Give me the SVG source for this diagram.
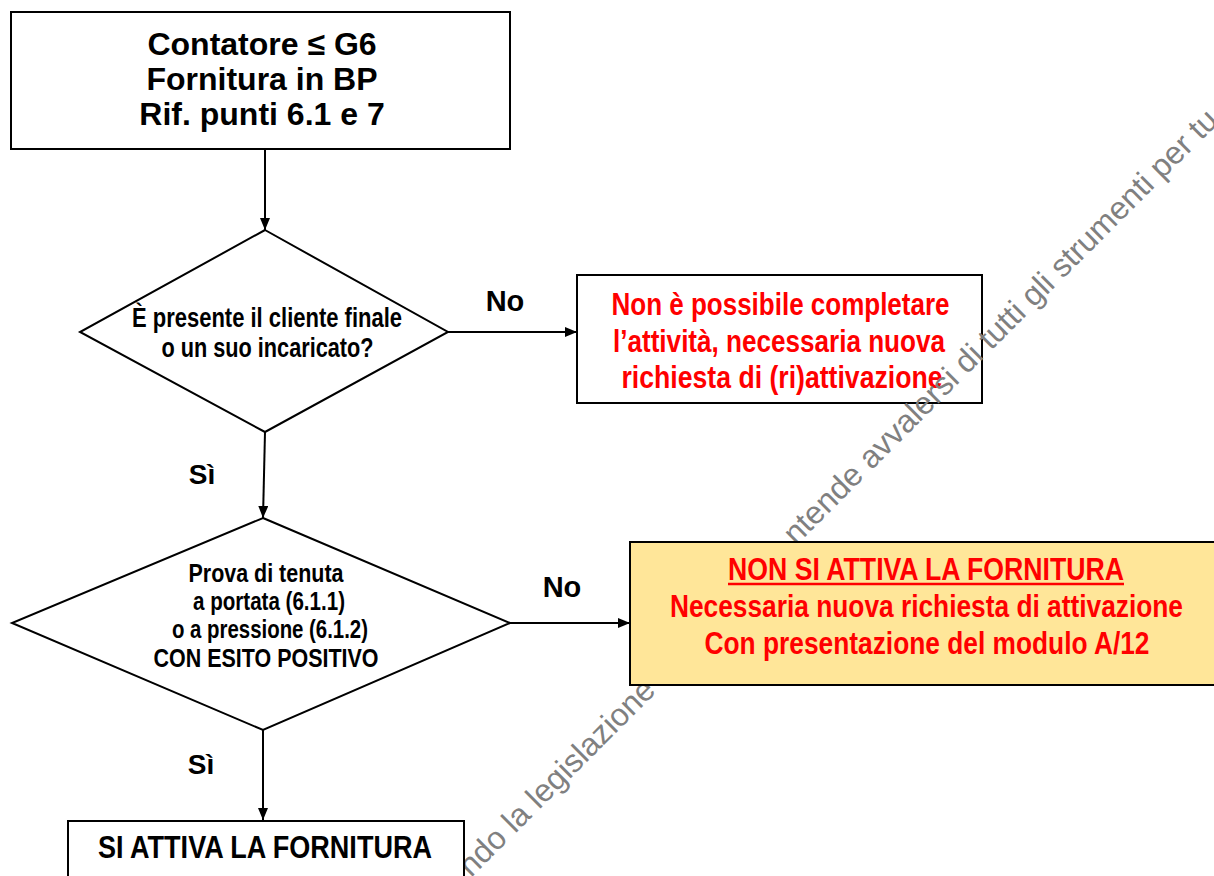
<svg xmlns="http://www.w3.org/2000/svg" width="1214" height="876" viewBox="0 0 1214 876">
  <defs>
    <marker id="arr" viewBox="0 0 12 10" refX="12" refY="5" markerWidth="12" markerHeight="10" markerUnits="userSpaceOnUse" orient="auto">
      <path d="M0,0 L12,5 L0,10 Z" fill="#000"/>
    </marker>
    <style>
      .box{stroke:#000;stroke-width:2;}
      .t{font-family:"Liberation Sans",Arial,sans-serif;font-weight:bold;text-anchor:middle;fill:#000;}
      .n{font-family:"Liberation Sans Narrow","Arial Narrow","Liberation Sans",Arial,sans-serif;font-weight:bold;text-anchor:middle;}
      .red{fill:#FF0000;}
      .blk{fill:#000;}
      .edge{stroke:#000;stroke-width:2;fill:none;marker-end:url(#arr);}
      .wm{font-family:"Liberation Sans",Arial,sans-serif;font-size:32px;fill:#808080;}
    </style>
  </defs>
  <rect width="1214" height="876" fill="#fff"/>

  <g id="connectors">
    <line class="edge" x1="265" y1="149" x2="265" y2="230"/>
    <line class="edge" x1="448" y1="332" x2="577" y2="332"/>
    <line class="edge" x1="265" y1="432" x2="263" y2="518"/>
    <line class="edge" x1="510" y1="623" x2="630" y2="623"/>
    <line class="edge" x1="263" y1="730" x2="263" y2="820"/>
    <text class="t" x="505" y="311" font-size="29">No</text>
    <text class="t" x="202" y="484" font-size="28">Sì</text>
    <text class="t" x="562" y="597" font-size="29">No</text>
    <text class="t" x="201" y="774" font-size="28">Sì</text>
  </g>

  <g id="start">
    <rect class="box" x="11" y="12" width="499" height="137" fill="#fff"/>
    <text class="t" x="262" y="55" font-size="32">Contatore ≤ G6</text>
    <text class="t" x="262" y="90" font-size="32">Fornitura in BP</text>
    <text class="t" x="262" y="125" font-size="32">Rif. punti 6.1 e 7</text>
  </g>

  <g id="decision1">
    <polygon class="box" points="265,230 448,332 265,432 80,332" fill="#fff"/>
    <text class="n blk" x="267" y="327" font-size="28" textLength="270" lengthAdjust="spacingAndGlyphs">È presente il cliente finale</text>
    <text class="n blk" x="267.5" y="357" font-size="28" textLength="212" lengthAdjust="spacingAndGlyphs">o un suo incaricato?</text>
  </g>

  <g id="noPresence">
    <rect class="box" x="577" y="275" width="405" height="128" fill="#fff"/>
    <text class="n red" x="780.5" y="315" font-size="31" textLength="338" lengthAdjust="spacingAndGlyphs">Non è possibile completare</text>
    <text class="n red" x="779" y="351.5" font-size="31" textLength="332" lengthAdjust="spacingAndGlyphs">l’attività, necessaria nuova</text>
    <text class="n red" x="782" y="388" font-size="31" textLength="321" lengthAdjust="spacingAndGlyphs">richiesta di (ri)attivazione</text>
  </g>

  <g id="decision2">
    <polygon class="box" points="263,518 510,623 263,730 12,623" fill="#fff"/>
    <text class="n blk" x="266" y="582" font-size="26" textLength="155" lengthAdjust="spacingAndGlyphs">Prova di tenuta</text>
    <text class="n blk" x="269" y="610" font-size="26" textLength="152" lengthAdjust="spacingAndGlyphs">a portata (6.1.1)</text>
    <text class="n blk" x="270" y="638" font-size="26" textLength="196" lengthAdjust="spacingAndGlyphs">o a pressione (6.1.2)</text>
    <text class="n blk" x="266" y="667" font-size="26" textLength="225" lengthAdjust="spacingAndGlyphs">CON ESITO POSITIVO</text>
  </g>

  <g id="watermark">
    <text class="wm" transform="translate(471,878) rotate(-45)">ndo la legislazione v</text>
    <text class="wm" transform="translate(796,546) rotate(-45)">ntende avvalersi di tutti gli strumenti per tu</text>
  </g>

  <g id="noActivation">
    <rect class="box" x="630" y="542" width="600" height="143" fill="#FFE699"/>
    <text class="n red" x="926" y="580" font-size="31" textLength="396" lengthAdjust="spacingAndGlyphs">NON SI ATTIVA LA FORNITURA</text>
    <line x1="728" y1="584" x2="1124" y2="584" stroke="#FF0000" stroke-width="2.5"/>
    <text class="n red" x="926.5" y="617" font-size="31" textLength="513" lengthAdjust="spacingAndGlyphs">Necessaria nuova richiesta di attivazione</text>
    <text class="n red" x="927" y="654" font-size="31" textLength="445" lengthAdjust="spacingAndGlyphs">Con presentazione del modulo A/12</text>
  </g>

  <g id="activate">
    <rect class="box" x="68" y="821" width="396" height="80" fill="#fff"/>
    <text class="n blk" x="265" y="858" font-size="31" textLength="334" lengthAdjust="spacingAndGlyphs">SI ATTIVA LA FORNITURA</text>
  </g>
</svg>
